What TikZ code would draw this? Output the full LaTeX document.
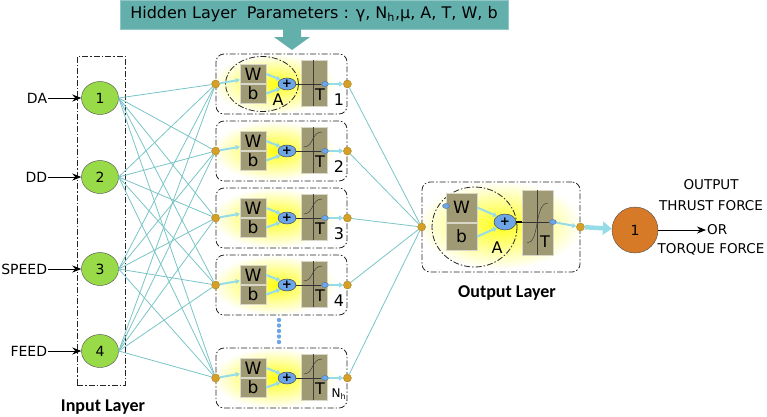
\documentclass[tikz,border=0pt]{standalone}
\usepackage{fontspec}
\setmainfont{DejaVu Sans}
\newfontfamily\calibri{Carlito}
\usetikzlibrary{arrows.meta, positioning, shapes.geometric, calc}

\definecolor{bannerteal}{RGB}{98,175,172}
\definecolor{linkteal}{RGB}{122,196,198}
\definecolor{dotgold}{RGB}{214,160,40}
\definecolor{ingreen}{RGB}{152,218,72}
\definecolor{outorange}{RGB}{214,122,40}
\definecolor{cellolive}{RGB}{160,154,116}
\definecolor{sumblue}{RGB}{110,165,230}
\definecolor{flowcyan}{RGB}{150,220,232}

\begin{document}
\begin{tikzpicture}[
  x=1pt, y=-1pt,
  font=\fontsize{14}{16}\selectfont,
  node distance=33pt,
  inode/.style={ellipse, draw=black!70, fill=ingreen, minimum width=37pt, minimum height=33pt, inner sep=0pt},
  onode/.style={circle, draw=black!70, fill=outorange, minimum size=46pt, inner sep=0pt},
  dot/.style={circle, draw=dotgold!80!black, fill=dotgold, minimum size=8pt, inner sep=0pt},
  bdot/.style={ellipse, draw=sumblue!70!black, fill=sumblue, minimum width=7pt, minimum height=5pt, inner sep=0pt},
  cell/.style={rectangle, draw=white!60!cellolive, fill=cellolive, minimum width=26pt, minimum height=19pt,
               inner sep=0pt, font=\fontsize{17}{17}\selectfont},
  tbox/.style={rectangle, draw=white!60!cellolive, fill=cellolive, minimum width=26pt, minimum height=46pt, inner sep=0pt},
  sum/.style={ellipse, draw=black!80, fill=sumblue, minimum width=18pt, minimum height=12pt, inner sep=0pt,
              font=\bfseries\fontsize{12}{12}\selectfont},
  dashdot/.style={draw=black!85, line width=0.8pt, dash pattern=on 6pt off 2pt on 1.5pt off 2pt},
  layerbox/.style={dashdot, rounded corners=8pt, minimum width=131pt, minimum height=60pt, inner sep=0pt},
  link/.style={draw=linkteal, line width=0.8pt},
  flow/.style={-{Triangle[length=4pt,width=5pt]}, draw=flowcyan, line width=2pt},
  bigflow/.style={-{Triangle[length=9pt,width=13pt]}, draw=flowcyan, line width=4.5pt},
  arrow/.style={-{Stealth[length=9pt,width=7pt]}, line width=0.8pt},
  title/.style={font=\calibri\bfseries\fontsize{18}{18}\selectfont},
  tag/.style={font=\fontsize{16}{16}\selectfont, inner sep=0pt},
  outtext/.style={font=\fontsize{13.5}{15}\selectfont, inner sep=1pt}
]
\useasboundingbox (0,0) rectangle (767,416);

% banner
\node[fill=bannerteal, draw=bannerteal!70!white, minimum width=388pt, minimum height=29pt, inner sep=0pt,
      font=\fontsize{16}{18}\selectfont]
  (banner) at (314,14.5) {Hidden Layer\ \ Parameters : γ, N\textsubscript{h},μ, A, T, W, b};
\fill[bannerteal] (283,29) -- (301,29) -- (301,37) -- (310,37) -- (292,50) -- (274,37) -- (283,37) -- cycle;

% input layer
\node[dashdot, minimum width=48pt, minimum height=329pt, inner sep=0pt] (inbox) at (101,220.5) {};
\foreach \i/\y/\lab in {1/98/DA, 2/177/DD, 3/269/SPEED, 4/351/FEED} {
  \node[inode] (in\i) at (100,\y) {\i};
  \node[inner sep=1pt, left=of in\i] (lab\i) {\lab};
  \draw[arrow] (lab\i) -- (in\i);
}
\node[title] (inlabel) at (103,407) {Input Layer};

% hidden layer
\foreach \i/\y/\n in {1/84/1, 2/151/2, 3/218/3, 4/285/4, 5/378/{\fontsize{12}{12}\selectfont N\textsubscript{h}}} {
  \shade[inner color=yellow!90!white, outer color=white] (274,\y) ellipse (62pt and 30pt);
  \node[layerbox] (h\i) at (281.5,\y) {};
  \ifnum\i=1
    \draw[dashdot] (262,\y) ellipse (36.5pt and 27.5pt);
  \fi
  \node[cell] (w\i) at (253,\y-10) {W};
  \node[cell] (b\i) at (253,\y+9.5) {b};
  \node[sum] (s\i) at (287,\y) {+};
  \node[tbox] (t\i) at (314,\y-1) {};
  \draw[black!75] (313,\y-24) -- (313,\y+22);
  \ifnum\i>1
    \draw[black!80] (303.5,\y-4) .. controls (314,\y-4) and (311,\y-19) .. (322,\y-19);
  \fi
  \node[bdot] (o\i) at (325,\y) {};
  \draw[black!80] (s\i.east) -- (o\i.west);
  \node[dot] (hin\i) at (h\i.west) {};
  \node[dot] (hout\i) at (h\i.east) {};
  \draw[flow] (hin\i) -- ($(w\i.south west)!0.4!(w\i.west)$);
  \draw[flow] (w\i.east) -- (s\i.north west);
  \draw[flow] (b\i.east) -- (s\i.south west);
  \draw[flow] (o\i) -- (hout\i);
  \node[tag] (tl\i) at (320,\y+11) {T};
  \node[tag] (nl\i) at (339,\y+16) {\n};
}
\node[tag] at (278,100) {A};
\foreach \k in {0,...,4}
  \fill[sumblue] (279,320+5.5*\k) circle (2.2pt);

% output layer
\shade[inner color=yellow!90!white, outer color=white] (500,225) ellipse (82pt and 44pt);
\node[layerbox, minimum width=158pt, minimum height=90pt] (olayer) at (501,227) {};
\draw[dashdot] (474.5,227) ellipse (42.5pt and 40pt);
\node[cell, minimum width=31pt, minimum height=29pt] (ow) at (461.5,207.5) {W};
\node[cell, minimum width=31pt, minimum height=27pt] (ob) at (461.5,236.5) {b};
\node[sum, minimum width=22pt, minimum height=16pt] (osum) at (505,222) {+};
\node[tbox, minimum width=31pt, minimum height=65pt] (otb) at (537.5,222.5) {};
\draw[black!75] (otb.north) -- (otb.south);
\draw[black!80] (527,243) .. controls (540,243) and (534,203) .. (548,203);
\node[bdot] (owd) at (446,206) {};
\node[bdot] (obd) at (553,222) {};
\draw[line width=2.2pt] (osum.east) -- (otb.west |- osum.east);
\draw[black!80] (otb.west |- osum.east) -- (obd.west);
\node[dot] (oin) at (olayer.west) {};
\node[dot] (oout) at (olayer.east) {};
\draw[flow] (ow.east) -- (osum.north west);
\draw[flow] (ob.east) -- (osum.south west);
\draw[flow] (obd) -- (oout);
\node[tag] (otl) at (545,242) {T};
\node[tag] (oal) at (497,248) {A};
\node[title] (outlabel) at (507,293) {Output Layer};

% links
\foreach \i in {1,...,4}
  \foreach \j in {1,...,5}
    \draw[link] (in\i.east) -- (hin\j);
\foreach \j in {1,...,5}
  \draw[link] (hout\j) -- (oin);

% output
\node[onode] (out) at (635,230) {1};
\draw[bigflow] (oout) -- (out);
\coordinate (otip) at (706,230);
\draw[arrow] (out) -- (otip);
\node[outtext, anchor=west] (orlab) at (otip) {OR};
\node[outtext] (outl1) at (711,185) {OUTPUT};
\node[outtext] (outl2) at (711,206) {THRUST FORCE};
\node[outtext] (outl3) at (711,249) {TORQUE FORCE};

\end{tikzpicture}
\end{document}
